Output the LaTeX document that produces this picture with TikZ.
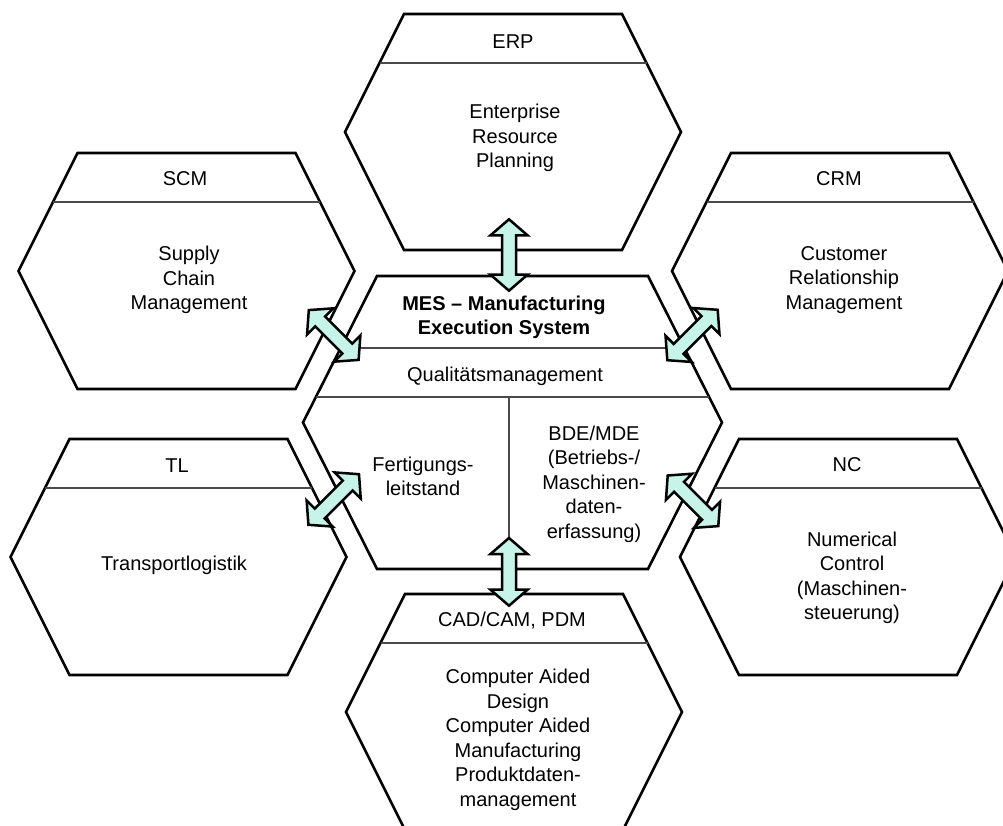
\documentclass[tikz,border=0pt]{standalone}
\usepackage{fontspec}
\setmainfont{Liberation Sans}
\usetikzlibrary{calc}

\definecolor{linkfill}{HTML}{C6F4E9}
\definecolor{rulegray}{HTML}{4A4A4A}

\tikzset{
  cell/.style={draw=black, line width=2.6pt, line join=miter},
  divider/.style={draw=rulegray, line width=1.2pt},
  celltext/.style={inner sep=0pt, align=center, font=\fontsize{20}{24.5}\selectfont},
  titletext/.style={inner sep=0pt, align=center, font=\fontsize{20}{24}\selectfont\bfseries},
  linkarrow/.style={draw=black, fill=linkfill, line width=2.5pt, line join=miter},
}

% outer hexagon of a system cell with the rule under its short name
\newcommand\hexcell[3]{%
  \coordinate (#1) at (#2,#3);
  \draw[cell] ($(#1)+(-109,-118)$) -- ($(#1)+(109,-118)$) -- ($(#1)+(168,0)$)
    -- ($(#1)+(109,118)$) -- ($(#1)+(-109,118)$) -- ($(#1)+(-168,0)$) -- cycle;
  \draw[divider] ($(#1)+(-133.5,-69)$) -- ($(#1)+(133.5,-69)$);
}

% filled double-headed block arrow between two named points
\newcommand\linkarrow[2]{%
  \path ($(#1)!16pt!(#2)$) coordinate (#1-h) ($(#2)!16pt!(#1)$) coordinate (#2-h);
  \draw[linkarrow] (#1)
    -- ($(#1-h)!18.5pt!90:(#2)$) -- ($(#1-h)!7pt!90:(#2)$)
    -- ($(#2-h)!7pt!-90:(#1)$) -- ($(#2-h)!18.5pt!-90:(#1)$)
    -- (#2)
    -- ($(#2-h)!18.5pt!90:(#1)$) -- ($(#2-h)!7pt!90:(#1)$)
    -- ($(#1-h)!7pt!-90:(#2)$) -- ($(#1-h)!18.5pt!-90:(#2)$)
    -- cycle;
}

\begin{document}
\begin{tikzpicture}[x=1pt,y=-1pt]
\useasboundingbox (0,0) rectangle (1003,826);
\fill[white] (0,0) rectangle (1003,826);
\clip (0,0) rectangle (1003,826);

% surrounding systems
\hexcell{erp}{513}{132}
\hexcell{scm}{186.5}{271}
\hexcell{crm}{840}{271}
\hexcell{tl}{178.5}{557}
\hexcell{nc}{848}{557}
\hexcell{cad}{514}{712}

% central MES cell
\coordinate (mes) at (512.5,422.5);
\draw[cell] ($(mes)+(-135.5,-146.5)$) -- ($(mes)+(135.5,-146.5)$) -- ($(mes)+(209.5,0)$)
  -- ($(mes)+(135.5,146.5)$) -- ($(mes)+(-135.5,146.5)$) -- ($(mes)+(-209.5,0)$) -- cycle;
\draw[divider] (340.7,348) -- (684.3,348);
\draw[divider] (315.9,397) -- (709.1,397);
\draw[divider] (509,397) -- (509,569);

% texts
\node[celltext] (erpHead) at (513,41.5) {ERP};
\node[celltext] (erpBody) at (515,138) {Enterprise\\Resource\\Planning};
\node[celltext] (scmHead) at (185,179) {SCM};
\node[celltext] (scmBody) at (189,280) {Supply\\Chain\\Management};
\node[celltext] (crmHead) at (839,179) {CRM};
\node[celltext] (crmBody) at (844,280) {Customer\\Relationship\\Management};
\node[celltext] (tlHead) at (177,466) {TL};
\node[celltext] (tlBody) at (174,565) {Transportlogistik};
\node[celltext] (ncHead) at (847,465) {NC};
\node[celltext] (ncBody) at (852,578) {Numerical\\Control\\(Maschinen-\\steuerung)};
\node[celltext] (cadHead) at (512,621) {CAD/CAM, PDM};
\node[celltext] (cadBody) at (518,740) {Computer Aided\\Design\\Computer Aided\\Manufacturing\\Produktdaten-\\management};
\node[titletext] (mesTitle) at (504,317) {MES – Manufacturing\\Execution System};
\node[celltext] (mesQual) at (505,376) {Qualitätsmanagement};
\node[celltext] (mesFert) at (423,476.5) {Fertigungs-\\leitstand};
\node[celltext] (mesBde) at (594,484) {BDE/MDE\\(Betriebs-/\\Maschinen-\\daten-\\erfassung)};

% link end points
\coordinate (erpLinkA) at (509,219.3);
\coordinate (erpLinkB) at (509,290.7);
\coordinate (cadLinkA) at (509,538);
\coordinate (cadLinkB) at (509,605.7);
\coordinate (scmLinkA) at (308.8,310.1);
\coordinate (scmLinkB) at (358.6,359.9);
\coordinate (crmLinkA) at (717.7,309.8);
\coordinate (crmLinkB) at (667.3,360.2);
\coordinate (tlLinkA) at (308.4,524.8);
\coordinate (tlLinkB) at (359,474.2);
\coordinate (ncLinkA) at (718.3,526.1);
\coordinate (ncLinkB) at (667.7,475.5);

% links between MES and the systems around it
\linkarrow{erpLinkA}{erpLinkB}
\linkarrow{cadLinkA}{cadLinkB}
\linkarrow{scmLinkA}{scmLinkB}
\linkarrow{crmLinkA}{crmLinkB}
\linkarrow{tlLinkA}{tlLinkB}
\linkarrow{ncLinkA}{ncLinkB}
\end{tikzpicture}
\end{document}
